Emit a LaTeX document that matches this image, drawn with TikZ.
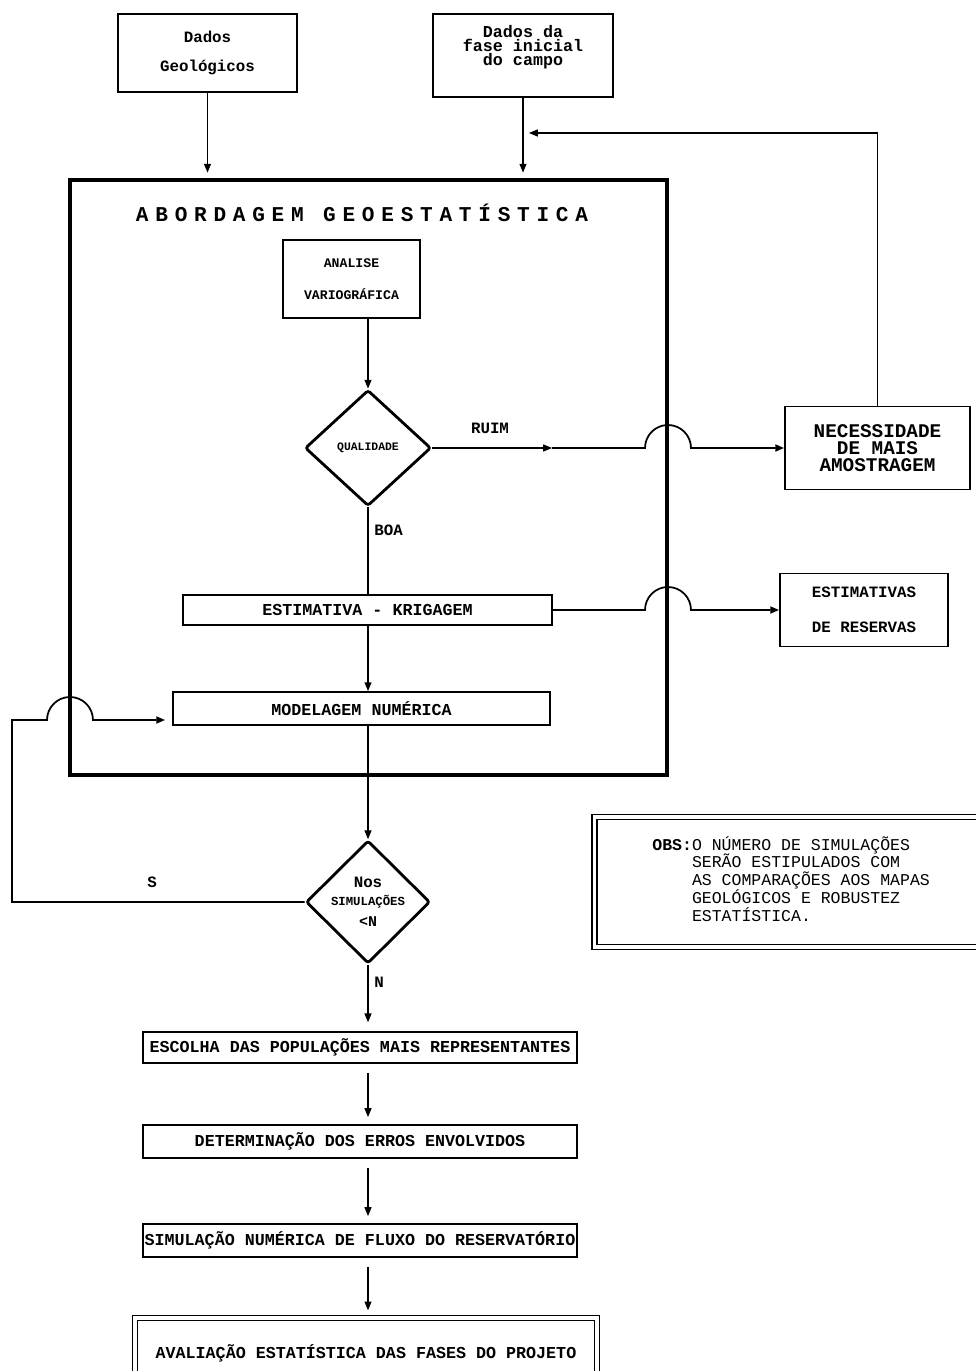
\documentclass[tikz,border=0pt]{standalone}
\usepackage{fontspec}
\usetikzlibrary{shapes.geometric}
\usetikzlibrary{arrows.meta}
\newfontfamily\pixfont{Liberation Mono}
\newfontfamily\titfont{Liberation Mono}[LetterSpace=32]

\tikzset{
  caixa/.style={draw,line width=1.1pt,inner sep=0pt,align=center,
    font=\pixfont\bfseries\fontsize{9.5}{11}\selectfont},
  losango/.style={draw,diamond,line width=1.6pt,inner sep=0pt,align=center,
    rounded corners=1.5pt},
  seta/.style={line width=0.6pt,-{Triangle[length=5pt,width=4pt]}},
  liga/.style={line width=0.6pt},
  salto/.style={line width=1pt},
  rotulo/.style={inner sep=0pt,font=\pixfont\bfseries\fontsize{9}{9}\selectfont},
}

\begin{document}
\begin{tikzpicture}[x=0.02cm,y=-0.02cm]
\useasboundingbox (0,0) rectangle (975,1371);

% dados de entrada
\node[caixa,minimum width=3.58cm,minimum height=1.56cm,font=\pixfont\bfseries\fontsize{9}{10}\selectfont] (dadosgeo) at (207.5,53) {Dados\\[7pt]Geológicos};
\node[caixa,minimum width=3.6cm,minimum height=1.66cm,font=\pixfont\bfseries\fontsize{9.5}{8}\selectfont] (dadosfase) at (523,55.5) {Dados da\\fase inicial\\do campo\\[3pt]};

% abordagem geoestatistica
\node[draw,line width=2.5pt,minimum width=11.94cm,minimum height=11.9cm,inner sep=0pt] (quadro) at (368.5,477.5) {};
\node[font=\titfont\bfseries\fontsize{12}{12}\selectfont] (titulo) at (362,213) {ABORDAGEM GEOESTATÍSTICA};

\node[caixa,minimum width=2.74cm,minimum height=1.56cm,font=\pixfont\bfseries\fontsize{7.5}{9}\selectfont] (analise) at (351.5,279) {ANALISE\\[9pt]VARIOGRÁFICA};
\node[losango,minimum width=2.52cm,minimum height=2.32cm,font=\pixfont\bfseries\fontsize{6.5}{7}\selectfont] (qualidade) at (368,448) {QUALIDADE};
\node[caixa,minimum width=3.7cm,minimum height=1.66cm,font=\pixfont\bfseries\fontsize{11}{9.5}\selectfont] (necessidade) at (877.5,448) {NECESSIDADE\\DE MAIS\\AMOSTRAGEM};
\node[caixa,minimum width=7.38cm,minimum height=0.6cm] (krig) at (367.5,610) {ESTIMATIVA - KRIGAGEM};
\node[caixa,minimum width=3.36cm,minimum height=1.46cm,font=\pixfont\bfseries\fontsize{9}{10}\selectfont] (reservas) at (864,610) {ESTIMATIVAS\\[10pt]DE RESERVAS};
\node[caixa,minimum width=7.54cm,minimum height=0.66cm] (modelagem) at (361.5,708.5) {MODELAGEM NUMÉRICA};

\node[rotulo] (ruim) at (490,428) {RUIM};
\node[rotulo,anchor=west] (boa) at (374,530) {BOA};

% simulacoes
\node[losango,minimum width=2.48cm,minimum height=2.16cm] (nsim) at (368,902) {{\pixfont\bfseries\fontsize{9}{7}\selectfont Nos}\\[-2pt]{\pixfont\bfseries\fontsize{7}{8}\selectfont SIMULAÇÕES}\\{\pixfont\bfseries\fontsize{8.5}{8}\selectfont <N}};
\node[rotulo] (lbls) at (152,882) {S};
\node[rotulo,anchor=west] (lbln) at (374,982) {N};

\node[draw,double,line width=0.8pt,double distance=2pt,minimum width=7.7cm,minimum height=2.6cm] (obs) at (787,882) {};
\node[anchor=north west,inner sep=0pt,font=\pixfont\fontsize{9.4}{7.7}\selectfont] (obstexto) at (652,836) {\textbf{OBS:}\begin{tabular}[t]{@{}l@{}}O NÚMERO DE SIMULAÇÕES\\ SERÃO ESTIPULADOS COM\\AS COMPARAÇÕES AOS MAPAS\\GEOLÓGICOS E ROBUSTEZ\\ESTATÍSTICA.\end{tabular}};

% etapas finais
\node[caixa,minimum width=8.68cm,minimum height=0.62cm] (escolha) at (360,1047.5) {ESCOLHA DAS POPULAÇÕES MAIS REPRESENTANTES};
\node[caixa,minimum width=8.68cm,minimum height=0.66cm] (erros) at (360,1141.5) {DETERMINAÇÃO DOS ERROS ENVOLVIDOS};
\node[caixa,minimum width=8.68cm,minimum height=0.66cm] (fluxo) at (360,1240.5) {SIMULAÇÃO NUMÉRICA DE FLUXO DO RESERVATÓRIO};
\node[draw,double,line width=0.8pt,double distance=2pt,inner sep=0pt,minimum width=9.24cm,minimum height=1.4cm,font=\pixfont\bfseries\fontsize{9.5}{11}\selectfont] (avaliacao) at (366,1353) {AVALIAÇÃO ESTATÍSTICA DAS FASES DO PROJETO};

% ligacoes
\coordinate (retorno) at (529,133);
\coordinate (meio) at (552,448);
\coordinate (volta) at (12,720);
\draw[seta,shorten >=3pt] (dadosgeo.south) -- (dadosgeo.south |- quadro.north);
\draw[seta,shorten >=3pt] (dadosfase.south) -- (dadosfase.south |- quadro.north);
\draw[seta] (necessidade.north) |- (retorno);
\draw[seta] (qualidade.north |- analise.south) -- (qualidade.north);
\draw[seta] (qualidade.east) -- (meio);
\draw[salto,-{Triangle[length=5pt,width=4pt]}] (meio) -- (645,448) arc[start angle=180,end angle=0,radius=0.46cm] -- (necessidade.west);
\draw[liga] (qualidade.south) -- (qualidade.south |- krig.north);
\draw[salto,-{Triangle[length=5pt,width=4pt]}] (krig.east) -- (645,610) arc[start angle=180,end angle=0,radius=0.46cm] -- (reservas.west);
\draw[seta] (qualidade.south |- krig.south) -- (qualidade.south |- modelagem.north);
\draw[seta] (nsim.north |- modelagem.south) -- (nsim.north);
\draw[salto,-{Triangle[length=5pt,width=4pt]},shorten >=4pt] (nsim.west) -| (volta) -- (47,720) arc[start angle=180,end angle=0,radius=0.46cm] -- (modelagem.west |- volta);
\draw[seta,shorten >=5pt] (nsim.south) -- (nsim.south |- escolha.north);
\draw[seta,shorten <=5pt,shorten >=4pt] (nsim.south |- escolha.south) -- (nsim.south |- erros.north);
\draw[seta,shorten <=5pt,shorten >=4pt] (nsim.south |- erros.south) -- (nsim.south |- fluxo.north);
\draw[seta,shorten <=5pt,shorten >=4pt] (nsim.south |- fluxo.south) -- (nsim.south |- avaliacao.north);

\end{tikzpicture}
\end{document}
